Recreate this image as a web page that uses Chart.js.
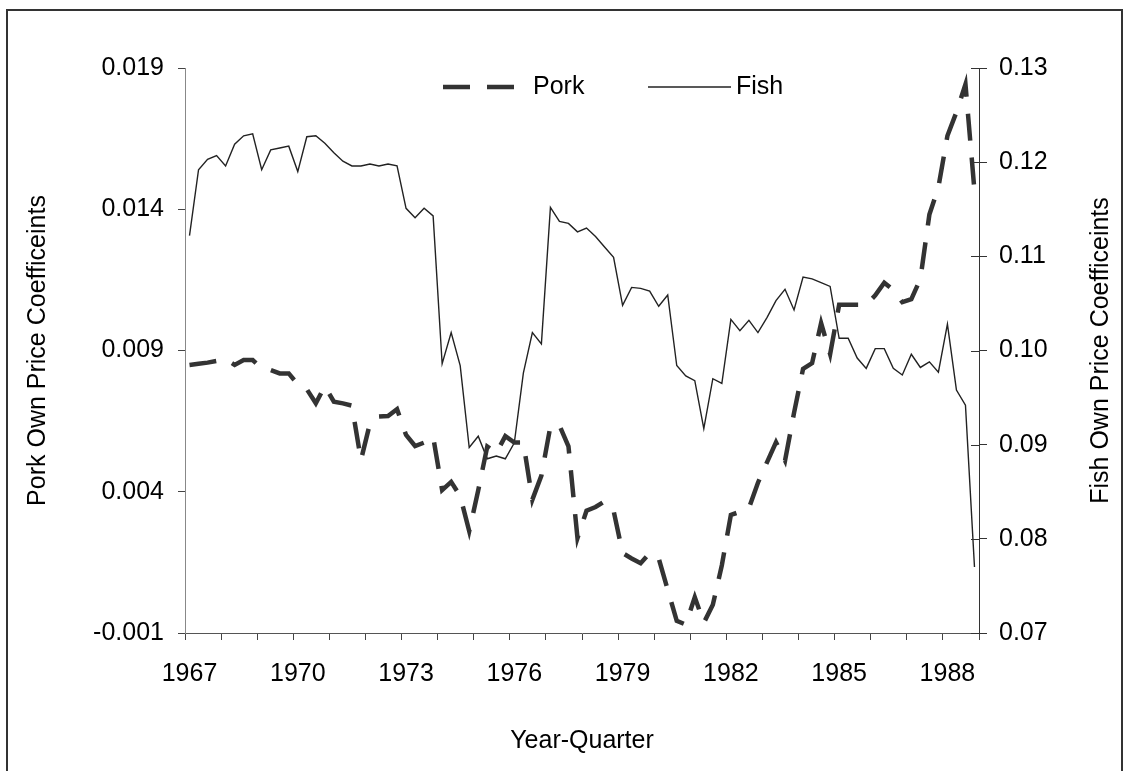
<!DOCTYPE html>
<html>
<head>
<meta charset="utf-8">
<script src="https://cdn.jsdelivr.net/npm/chart.js@4.4.1/dist/chart.umd.min.js"></script>
<style>
  html, body { margin: 0; padding: 0; background: #ffffff; }
  #wrap { width: 1129px; height: 771px; position: relative; }
</style>
</head>
<body>
<div id="wrap"><canvas id="c" width="1129" height="771"></canvas></div>
<script>
// ---- Data (quarterly, 1967Q1 - 1988Q4) ----
const quarters = [];
for (let y = 1967; y <= 1988; y++) { for (let q = 1; q <= 4; q++) quarters.push(y + ':' + q); }

const xTickLabels = ['1967', '1970', '1973', '1976', '1979', '1982', '1985', '1988'];
const porkTicks = [-0.001, 0.004, 0.009, 0.014, 0.019];
const fishTicks = [0.07, 0.08, 0.09, 0.10, 0.11, 0.12, 0.13];

const pork = [
  0.00849, 0.00853, 0.00857, 0.00863, 0.00869, 0.00849, 0.00866, 0.00866,
  0.00837, 0.00831, 0.00819, 0.00819, 0.00780, 0.00763, 0.00713, 0.00774,
  0.00719, 0.00713, 0.00705, 0.00512, 0.00642, 0.00666, 0.00668, 0.00692,
  0.00601, 0.00562, 0.00574, 0.00595, 0.00406, 0.00435, 0.00385, 0.00261,
  0.00405, 0.00560, 0.00537, 0.00597, 0.00574, 0.00574, 0.00372, 0.00457,
  0.00632, 0.00635, 0.00561, 0.00236, 0.00333, 0.00346, 0.00366, 0.00333,
  0.00183, 0.00164, 0.00147, 0.00183, 0.00164, 0.00053, -0.00057, -0.00070,
  0.00027, -0.00064, 0.00000, 0.00140, 0.00318, 0.00329, 0.00342, 0.00432,
  0.00504, 0.00575, 0.00510, 0.00679, 0.00835, 0.00855, 0.00997, 0.00887,
  0.01062, 0.01062, 0.01062, 0.01062, 0.01095, 0.01140, 0.01114, 0.01071,
  0.01082, 0.01153, 0.01381, 0.01478, 0.01660, 0.01744, 0.01842, 0.01465
];

const fish = [
  0.1122, 0.1192, 0.1203, 0.1207, 0.1196, 0.1219, 0.1228, 0.1230,
  0.1192, 0.1213, 0.1215, 0.1217, 0.1190, 0.1227, 0.1228, 0.1220,
  0.1210, 0.1201, 0.1196, 0.1196, 0.1198, 0.1196, 0.1198, 0.1196,
  0.1151, 0.1141, 0.1151, 0.1143, 0.0986, 0.1019, 0.0984, 0.0897,
  0.0909, 0.0885, 0.0888, 0.0885, 0.0902, 0.0976, 0.1019, 0.1007,
  0.1152, 0.1137, 0.1135, 0.1126, 0.1130, 0.1121, 0.1110, 0.1099,
  0.1048, 0.1067, 0.1066, 0.1063, 0.1047, 0.1059, 0.0984, 0.0973,
  0.0968, 0.0917, 0.0970, 0.0965, 0.1033, 0.1021, 0.1032, 0.1019,
  0.1035, 0.1053, 0.1065, 0.1043, 0.1078, 0.1076, 0.1072, 0.1068,
  0.1013, 0.1013, 0.0992, 0.0981, 0.1002, 0.1002, 0.0981, 0.0974,
  0.0996, 0.0982, 0.0988, 0.0977, 0.1028, 0.0958, 0.0942, 0.0770
];

const fishAxisTitle = 'Fish Own Price Coefficeints';

// ---- Styling ----
const FONT_FAMILY = '"Liberation Sans", Arial, Helvetica, sans-serif';
const font = { family: FONT_FAMILY, size: 25 };
Chart.defaults.font.family = FONT_FAMILY;
Chart.defaults.color = '#000000';

// Outer frame
const framePlugin = {
  id: 'frame',
  beforeDraw(chart) {
    const c = chart.ctx;
    c.save();
    c.fillStyle = '#ffffff';
    c.fillRect(0, 0, chart.width, chart.height);
    c.strokeStyle = '#333333';
    c.lineWidth = 2;
    c.beginPath();
    c.moveTo(7, 775); c.lineTo(7, 10); c.lineTo(1122, 10); c.lineTo(1122, 775);
    c.stroke();
    c.restore();
  }
};

// Inner half of the right-axis tick marks (they cross the axis) + right axis title (reads upward)
const rightAxisPlugin = {
  id: 'rightAxisExtras',
  afterDraw(chart) {
    const s = chart.scales.yFish;
    const c = chart.ctx;
    c.save();
    c.strokeStyle = '#333333';
    c.lineWidth = 1;
    c.beginPath();
    s.ticks.forEach(t => {
      const y = Math.round(s.getPixelForValue(t.value)) + 0.5;
      c.moveTo(s.left - 8, y); c.lineTo(s.left, y);
    });
    c.stroke();
    const cy = (s.top + s.bottom) / 2;
    c.translate(1101, cy);
    c.rotate(-Math.PI / 2);
    c.fillStyle = '#000000';
    c.font = '25px ' + FONT_FAMILY;
    c.textAlign = 'center';
    c.textBaseline = 'middle';
    c.fillText(fishAxisTitle, 0, 0);
    c.restore();
  }
};

// Custom legend inside the plot area
const legendPlugin = {
  id: 'customLegend',
  afterDraw(chart) {
    const c = chart.ctx;
    const items = [
      { ds: chart.data.datasets[0], x0: 443, x1: 531, tx: 533 },
      { ds: chart.data.datasets[1], x0: 648, x1: 731, tx: 736 }
    ];
    const y = 87;
    c.save();
    items.forEach(it => {
      c.strokeStyle = it.ds.borderColor;
      c.lineWidth = it.ds.borderWidth;
      c.setLineDash(it.ds.borderDash || []);
      c.lineCap = 'butt';
      c.beginPath();
      c.moveTo(it.x0, y); c.lineTo(it.x1, y);
      c.stroke();
      c.setLineDash([]);
      c.fillStyle = '#000000';
      c.font = '25px ' + FONT_FAMILY;
      c.textBaseline = 'middle';
      c.textAlign = 'left';
      c.fillText(it.ds.label, it.tx, y);
    });
    c.restore();
  }
};

new Chart(document.getElementById('c'), {
  type: 'line',
  data: {
    labels: quarters,
    datasets: [
      {
        label: 'Pork', data: pork, yAxisID: 'yPork',
        borderColor: '#333333', borderWidth: 4.5, borderDash: [27, 17],
        borderJoinStyle: 'miter', borderCapStyle: 'butt',
        pointRadius: 0, tension: 0, fill: false
      },
      {
        label: 'Fish', data: fish, yAxisID: 'yFish',
        borderColor: '#222222', borderWidth: 1.4,
        borderJoinStyle: 'miter',
        pointRadius: 0, tension: 0, fill: false
      }
    ]
  },
  options: {
    responsive: false,
    animation: false,
    devicePixelRatio: 1,
    layout: { padding: { top: 68, left: 0, right: 0, bottom: 0 } },
    plugins: { legend: { display: false }, tooltip: { enabled: false } },
    scales: {
      x: {
        type: 'category',
        offset: true,
        grid: {
          offset: true,
          drawOnChartArea: false,
          drawTicks: true,
          tickLength: 7,
          lineWidth: 1,
          color: (ctx) => (ctx.index === undefined || ctx.index % 4 === 0) ? '#444444' : 'rgba(0,0,0,0)'
        },
        border: { display: true, color: '#555555', width: 1 },
        ticks: {
          autoSkip: false, maxRotation: 0, minRotation: 0,
          padding: 19, color: '#000000', font: font,
          callback: (v, i) => (i % 12 === 0) ? xTickLabels[i / 12] : ''
        },
        title: {
          display: true, text: 'Year-Quarter', color: '#000000', font: font,
          padding: { top: 0, bottom: 15 }
        },
        afterFit: (s) => { s.height = 138; }
      },
      yPork: {
        type: 'linear', position: 'left',
        min: -0.001, max: 0.019,
        afterBuildTicks: (s) => { s.ticks = porkTicks.map(v => ({ value: v })); },
        grid: { drawOnChartArea: false, tickLength: 7, color: '#444444' },
        border: { display: true, color: '#888888', width: 1 },
        ticks: { padding: 14, color: '#000000', font: font, callback: (v) => Number(v).toFixed(3) },
        title: {
          display: true, text: 'Pork Own Price Coefficeints', color: '#000000', font: font,
          padding: { top: 23, bottom: 0 }
        },
        afterFit: (s) => { s.width = 185; }
      },
      yFish: {
        type: 'linear', position: 'right',
        min: 0.07, max: 0.13,
        afterBuildTicks: (s) => { s.ticks = fishTicks.map(v => ({ value: v })); },
        grid: { drawOnChartArea: false, tickLength: 8, color: '#333333' },
        border: { display: true, color: '#333333', width: 1 },
        ticks: { padding: 12, color: '#000000', font: font, callback: (v) => Number(v).toFixed(2) },
        title: { display: false },
        afterFit: (s) => { s.width = 150; }
      }
    }
  },
  plugins: [framePlugin, rightAxisPlugin, legendPlugin]
});
</script>
</body>
</html>
